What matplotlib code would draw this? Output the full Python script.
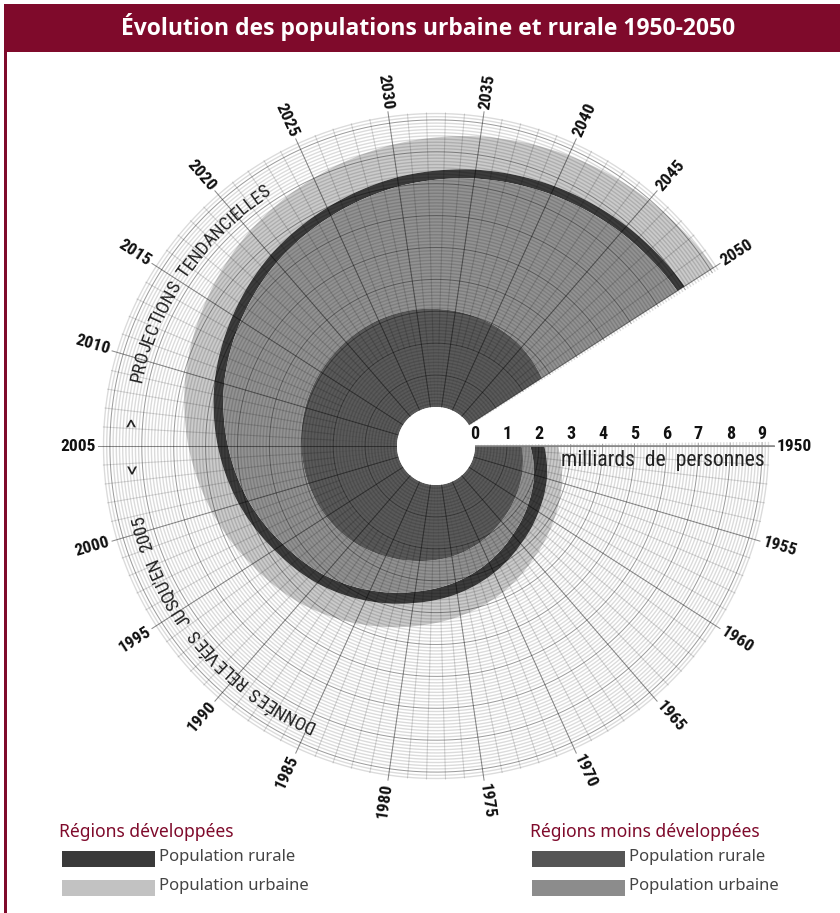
import numpy as np
import matplotlib
matplotlib.use("Agg")
import matplotlib.pyplot as plt
from matplotlib.patches import PathPatch, Rectangle
from matplotlib.path import Path
from matplotlib.textpath import TextPath
from matplotlib.font_manager import FontProperties

years = list(range(1950, 2055, 5))
rural_less = [1.46, 1.60, 1.74, 1.90, 2.10, 2.28, 2.42, 2.58, 2.75, 2.87, 2.95, 3.00, 3.05, 3.08, 3.10, 3.12, 3.10, 3.05, 2.98, 2.88, 2.72]
urban_less = [0.27, 0.38, 0.46, 0.55, 0.67, 0.81, 0.97, 1.17, 1.38, 1.60, 1.95, 2.30, 2.65, 2.97, 3.30, 3.58, 3.90, 4.20, 4.47, 4.75, 5.05]
rural_more = [0.44, 0.42, 0.40, 0.39, 0.38, 0.37, 0.36, 0.35, 0.34, 0.33, 0.32, 0.32, 0.31, 0.30, 0.30, 0.29, 0.29, 0.28, 0.28, 0.27, 0.27]
urban_more = [0.43, 0.49, 0.55, 0.60, 0.67, 0.70, 0.74, 0.78, 0.82, 0.85, 0.88, 0.92, 0.94, 0.96, 0.99, 1.02, 1.03, 1.05, 1.06, 1.07, 1.09]
value_ticks = list(range(0, 10))

C_LR, C_LU, C_MR, C_MU = "#5a5a5a", "#929292", "#3c3c3c", "#cbcbcb"
L_LR, L_LU, L_MR, L_MU = "#555555", "#8c8c8c", "#3a3a3a", "#c2c2c2"
CRIMSON = "#7f0a2b"
W, H = 840, 913
CX, CY = 436, 446
R0, PER = 39.0, 31.9
RMAX = 9.6
NARROW = "Roboto Condensed"

fig = plt.figure(figsize=(W / 100, H / 100), dpi=100, facecolor="white")
half = R0 + PER * RMAX
ax = fig.add_axes([(CX - half) / W, 1 - (CY + half) / H, 2 * half / W, 2 * half / H], projection="polar")
ax.set_theta_zero_location("E")
ax.set_theta_direction(-1)
ax.set_rorigin(-R0 / PER)
ax.set_rlim(0, RMAX)
ax.set_axis_off()


def year_angle(y):
    return np.deg2rad((y - 1950) * 360 / 110)


def band(low, high, color):
    t = year_angle(np.array(years, float))
    verts = np.r_[np.c_[t, high], np.c_[t[::-1], np.asarray(low)[::-1]], [[t[0], high[0]]]]
    codes = [Path.MOVETO] + [Path.LINETO] * (len(verts) - 1)
    ax.add_patch(PathPatch(Path(verts, codes, _interpolation_steps=16), facecolor=color,
                           edgecolor="none", transform=ax.transData, zorder=2))


s0 = np.zeros(len(years))
s1 = s0 + rural_less
s2 = s1 + urban_less
s3 = s2 + rural_more
s4 = s3 + urban_more
band(s3, s4, C_MU)
band(s2, s3, C_MR)
band(s1, s2, C_LU)
band(s0, s1, C_LR)

# grid
arc_t = np.deg2rad(np.linspace(-0.6, 327.9, 700))
for k in range(1, 93):
    v = k / 10
    if k % 10 == 0:
        ax.plot(arc_t, np.full_like(arc_t, v), color="black", alpha=0.38, lw=0.75, zorder=4)
    else:
        ax.plot(arc_t, np.full_like(arc_t, v), color="black", alpha=0.14, lw=1.0, zorder=3)
for y in range(1950, 2051):
    t = year_angle(y)
    if y % 5 == 0:
        ax.plot([t, t], [0, 9.36], color="black", alpha=0.45, lw=0.75, zorder=5)
    else:
        ax.plot([t, t], [0, 2.0], color="black", alpha=0.08, lw=0.4, zorder=3)
        ax.plot([t, t], [2.0, 9.22], color="black", alpha=0.15, lw=0.8, zorder=3)
ax.plot([0, 0], [0, 9.36], color="#8a8a8a", lw=1.2, zorder=5)

# year labels
for y in years:
    deg = -(y - 1950) * 360 / 110 % 360
    rot = deg if (deg <= 90 or deg > 270) else deg - 180
    if rot > 90:
        rot -= 360
    ax.text(year_angle(y), 10.0, str(y), family=NARROW, fontweight="bold", fontsize=12.5,
            rotation=rot, rotation_mode="anchor", ha="center", va="center", color="#111111", zorder=8)

# value labels
for v in value_ticks:
    ax.annotate(str(v), (0, v), xytext=(0, 2), textcoords="offset points", family=NARROW, annotation_clip=False,
                fontweight="bold", fontsize=13, ha="center", va="bottom", color="#111111", zorder=8)
ax.annotate("milliards  de  personnes", (0, 2.69), xytext=(0, -14.5), textcoords="offset points",
            family=NARROW, fontsize=15.7, ha="left", va="baseline", color="#222222", zorder=8, annotation_clip=False)


def curved(text, deg_start, deg_end, r_px, size=13.5):
    """Place text clockwise along an arc; angles are counter-clockwise from east."""
    fp = FontProperties(family=NARROW, size=size)
    bar = TextPath((0, 0), "|", prop=fp).get_extents().width
    adv = [TextPath((0, 0), c + "|", prop=fp).get_extents().width - bar if c != " " else size * 0.25 for c in text]
    adv = np.array(adv) * 100 / 72
    arc = np.deg2rad(deg_start - deg_end) * r_px
    gap = (arc - adv.sum()) / (len(text) - 1)
    pos = 0
    for c, a in zip(text, adv):
        d = deg_start - np.rad2deg((pos + a / 2) / r_px)
        ax.text(np.deg2rad(-d), (r_px - R0) / PER, c, fontproperties=fp, rotation=d - 90,
                rotation_mode="anchor", ha="center", va="baseline", color="#222222", zorder=8)
        pos += a + gap


curved("PROJECTIONS  TENDANCIELLES", 168.0, 123.0, 301)
curved("DONNÉES  RELEVÉES  JUSQU'EN  2005", 246.5, 193.0, 301)
ax.text(np.deg2rad(-(180 - 4.2)), (309 - R0) / PER, "<", family=NARROW, fontsize=16, rotation=-90,
        ha="center", va="center", color="#222222", zorder=8)
ax.text(np.deg2rad(-(180 + 4.4)), (309 - R0) / PER, ">", family=NARROW, fontsize=16, rotation=-90,
        ha="center", va="center", color="#222222", zorder=8)

# frame and title
fig.add_artist(Rectangle((4 / W, 1 - 52 / H), (W - 4) / W, 48 / H, transform=fig.transFigure, color=CRIMSON, lw=0))
fig.add_artist(Rectangle((4 / W, 0), 3 / W, 1 - 52 / H, transform=fig.transFigure, color=CRIMSON, lw=0))
fig.text(428 / W, 1 - 27 / H, "Évolution des populations urbaine et rurale 1950-2050", color="white",
         family="Open Sans", fontweight="bold", fontsize=16.5, ha="center", va="center")


def legend_block(x_title, x_box, title, c1, c2):
    fig.text(x_title / W, 1 - 832 / H, title, color=CRIMSON, family="Noto Sans", fontsize=12.6, va="center")
    for yy, c, lab, ty in [(851, c1, "Population rurale", 857), (880, c2, "Population urbaine", 886)]:
        fig.add_artist(Rectangle((x_box / W, 1 - (yy + 16) / H), 93 / W, 16 / H, transform=fig.transFigure, color=c, lw=0))
        fig.text((x_box + 97) / W, 1 - ty / H, lab, color="#444444", family="Noto Sans", fontsize=12, va="center")


legend_block(59, 62, "Régions développées", L_MR, L_MU)
legend_block(530, 532, "Régions moins développées", L_LR, L_LU)

fig.savefig("out.png", dpi=100)
